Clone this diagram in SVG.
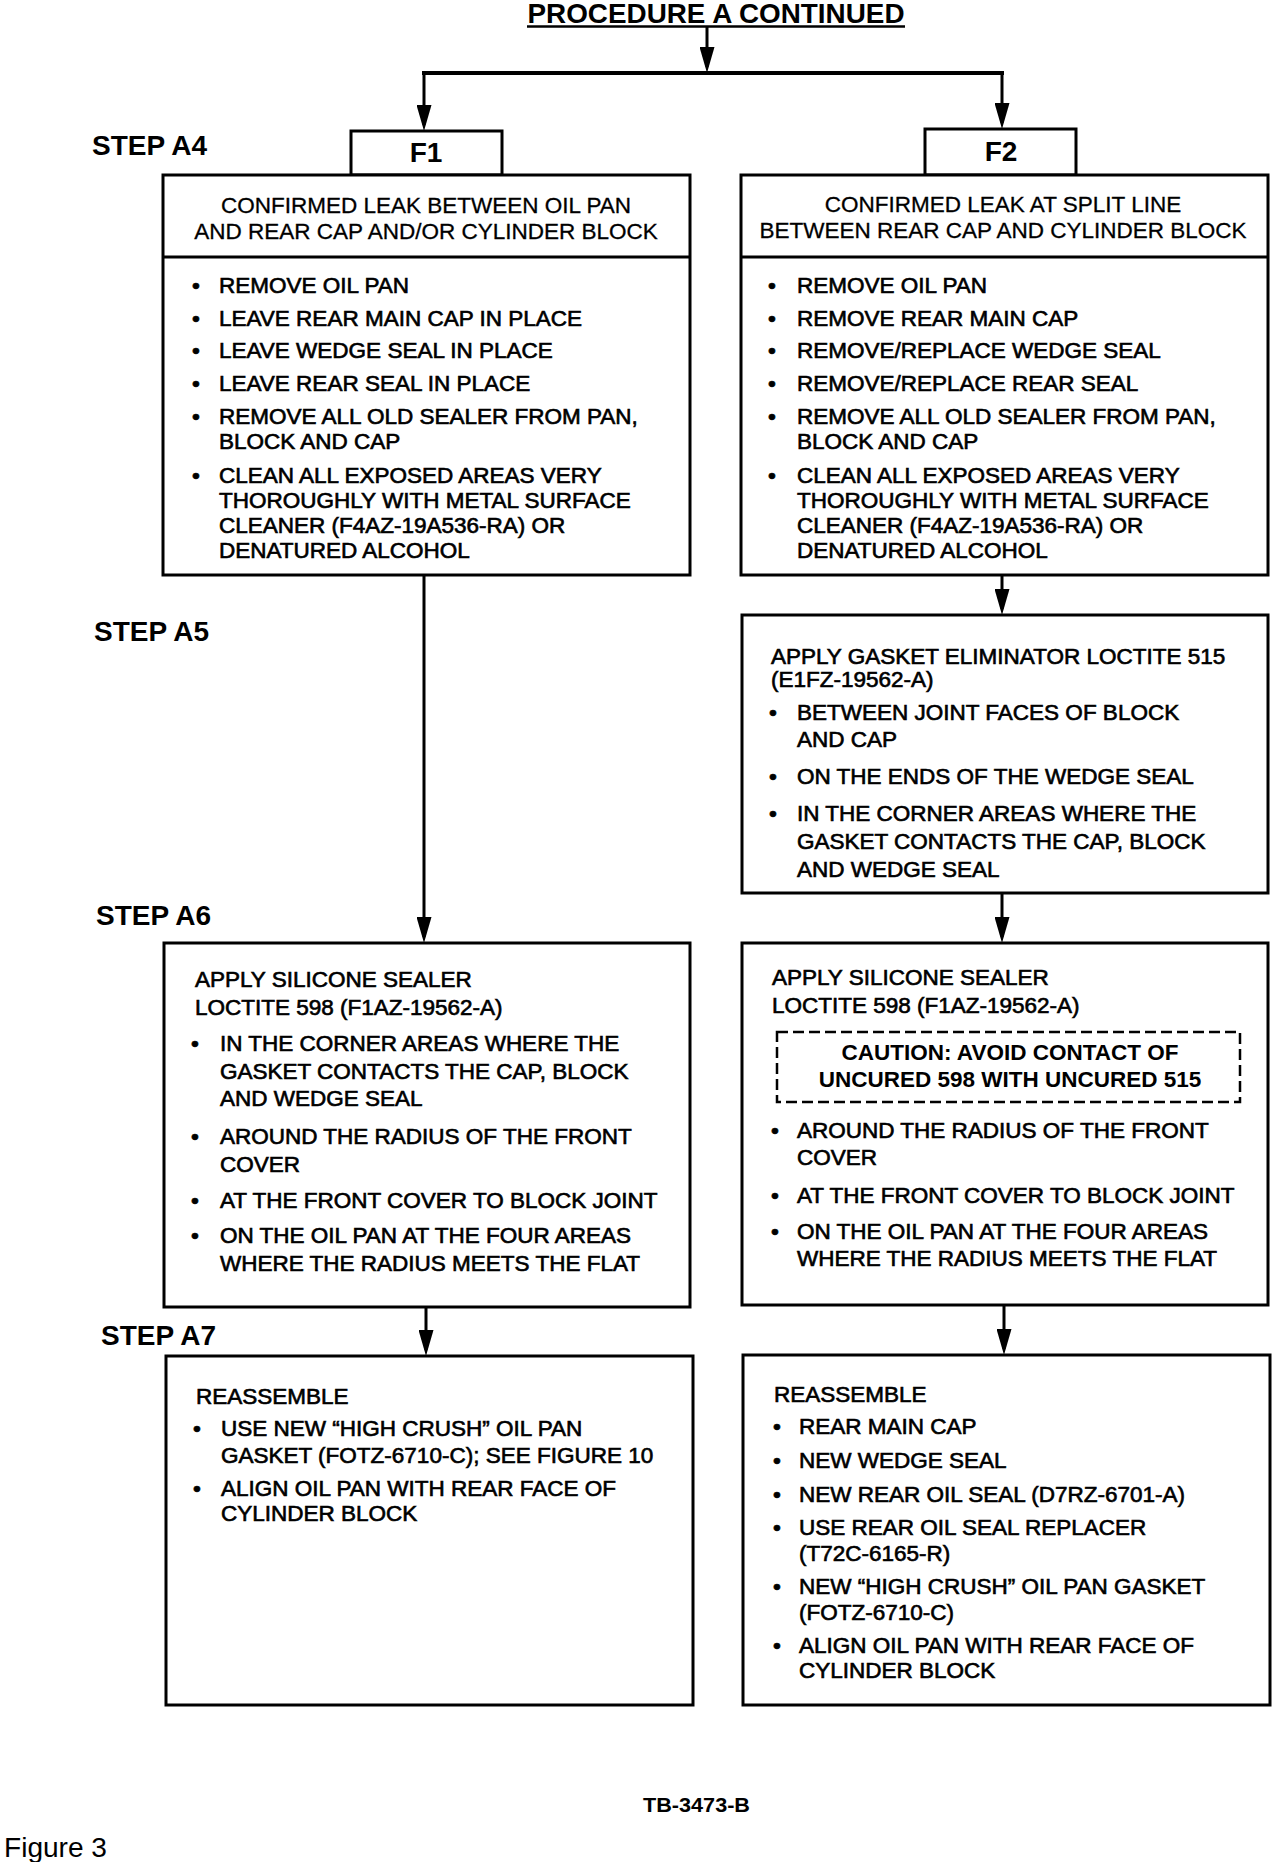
<svg xmlns="http://www.w3.org/2000/svg" width="1280" height="1862" viewBox="0 0 1280 1862">
<style>
.box{fill:#fff;stroke:#000;stroke-width:3}
.lbl{fill:#fff;stroke:#000;stroke-width:3}
.dash{fill:none;stroke:#000;stroke-width:2.5;stroke-dasharray:11 5}
.ln{fill:none;stroke:#000;stroke-width:3}
.t{font-family:"Liberation Sans",Arial,sans-serif;font-size:22.5px;fill:#000;stroke:#000;stroke-width:0.65}
.h{font-family:"Liberation Sans",Arial,sans-serif;font-size:22.5px;fill:#000;stroke:#000;stroke-width:0.3;text-anchor:middle}
.b{font-family:"Liberation Sans",Arial,sans-serif;font-size:22.5px;font-weight:bold;fill:#000;text-anchor:middle}
.step{font-family:"Liberation Sans",Arial,sans-serif;font-size:28px;font-weight:bold;fill:#000}
.f{font-family:"Liberation Sans",Arial,sans-serif;font-size:28px;font-weight:bold;fill:#000;text-anchor:middle}
</style>
<defs>
<marker id="ah" viewBox="0 0 26 15" refX="20" refY="7.5" markerWidth="26" markerHeight="15" markerUnits="userSpaceOnUse" orient="auto">
<path d="M0,0 L26,7.5 L0,15 z" fill="#000"/>
</marker>
</defs>
<rect width="1280" height="1862" fill="#fff"/>

<g id="title">
<text x="716" y="23" class="f" font-size="29" textLength="377" lengthAdjust="spacingAndGlyphs">PROCEDURE A CONTINUED</text>
<line x1="527" y1="26.5" x2="905" y2="26.5" stroke="#000" stroke-width="2.5"/>
</g>

<g id="connectors">
<line class="ln" x1="707" y1="27" x2="707" y2="67" marker-end="url(#ah)"/>
<line x1="422" y1="73" x2="1004" y2="73" stroke="#000" stroke-width="4"/>
<line class="ln" x1="424" y1="73" x2="424" y2="125" marker-end="url(#ah)"/>
<line class="ln" x1="1002" y1="73" x2="1002" y2="123" marker-end="url(#ah)"/>
<line class="ln" x1="424" y1="575" x2="424" y2="937" marker-end="url(#ah)"/>
<line class="ln" x1="1002" y1="575" x2="1002" y2="609" marker-end="url(#ah)"/>
<line class="ln" x1="1002" y1="893" x2="1002" y2="937" marker-end="url(#ah)"/>
<line class="ln" x1="426" y1="1307" x2="426" y2="1350" marker-end="url(#ah)"/>
<line class="ln" x1="1004" y1="1305" x2="1004" y2="1349" marker-end="url(#ah)"/>
</g>

<g id="steps">
<text x="92" y="155" class="step">STEP A4</text>
<text x="94" y="641" class="step">STEP A5</text>
<text x="96" y="925" class="step">STEP A6</text>
<text x="101" y="1345" class="step">STEP A7</text>
</g>

<g id="F1">
<rect class="lbl" x="351" y="131" width="151" height="44"/>
<text x="426" y="162" class="f">F1</text>
</g>
<g id="F2">
<rect class="lbl" x="925" y="129" width="151" height="46"/>
<text x="1001" y="161" class="f">F2</text>
</g>

<g id="A4-F1">
<rect class="box" x="163" y="175" width="527" height="400"/>
<line class="ln" x1="163" y1="257" x2="690" y2="257"/>
<text x="426" y="213" class="h">CONFIRMED LEAK BETWEEN OIL PAN</text>
<text x="426" y="239" class="h">AND REAR CAP AND/OR CYLINDER BLOCK</text>
<text class="t" x="192" y="293">•</text><text class="t" x="219" y="293">REMOVE OIL PAN</text>
<text class="t" x="192" y="326">•</text><text class="t" x="219" y="326">LEAVE REAR MAIN CAP IN PLACE</text>
<text class="t" x="192" y="358">•</text><text class="t" x="219" y="358">LEAVE WEDGE SEAL IN PLACE</text>
<text class="t" x="192" y="391">•</text><text class="t" x="219" y="391">LEAVE REAR SEAL IN PLACE</text>
<text class="t" x="192" y="424">•</text><text class="t" x="219" y="424">REMOVE ALL OLD SEALER FROM PAN,</text>
<text class="t" x="219" y="449">BLOCK AND CAP</text>
<text class="t" x="192" y="483">•</text><text class="t" x="219" y="483">CLEAN ALL EXPOSED AREAS VERY</text>
<text class="t" x="219" y="508">THOROUGHLY WITH METAL SURFACE</text>
<text class="t" x="219" y="533">CLEANER (F4AZ-19A536-RA) OR</text>
<text class="t" x="219" y="558">DENATURED ALCOHOL</text>
</g>

<g id="A4-F2">
<rect class="box" x="741" y="175" width="527" height="400"/>
<line class="ln" x1="741" y1="257" x2="1268" y2="257"/>
<text x="1003" y="212" class="h">CONFIRMED LEAK AT SPLIT LINE</text>
<text x="1003" y="238" class="h">BETWEEN REAR CAP AND CYLINDER BLOCK</text>
<text class="t" x="768" y="293">•</text><text class="t" x="797" y="293">REMOVE OIL PAN</text>
<text class="t" x="768" y="326">•</text><text class="t" x="797" y="326">REMOVE REAR MAIN CAP</text>
<text class="t" x="768" y="358">•</text><text class="t" x="797" y="358">REMOVE/REPLACE WEDGE SEAL</text>
<text class="t" x="768" y="391">•</text><text class="t" x="797" y="391">REMOVE/REPLACE REAR SEAL</text>
<text class="t" x="768" y="424">•</text><text class="t" x="797" y="424">REMOVE ALL OLD SEALER FROM PAN,</text>
<text class="t" x="797" y="449">BLOCK AND CAP</text>
<text class="t" x="768" y="483">•</text><text class="t" x="797" y="483">CLEAN ALL EXPOSED AREAS VERY</text>
<text class="t" x="797" y="508">THOROUGHLY WITH METAL SURFACE</text>
<text class="t" x="797" y="533">CLEANER (F4AZ-19A536-RA) OR</text>
<text class="t" x="797" y="558">DENATURED ALCOHOL</text>
</g>

<g id="A5-F2">
<rect class="box" x="742" y="615" width="526" height="278"/>
<text class="t" x="771" y="664">APPLY GASKET ELIMINATOR LOCTITE 515</text>
<text class="t" x="771" y="687">(E1FZ-19562-A)</text>
<text class="t" x="769" y="720">•</text><text class="t" x="797" y="720">BETWEEN JOINT FACES OF BLOCK</text>
<text class="t" x="797" y="747">AND CAP</text>
<text class="t" x="769" y="784">•</text><text class="t" x="797" y="784">ON THE ENDS OF THE WEDGE SEAL</text>
<text class="t" x="769" y="821">•</text><text class="t" x="797" y="821">IN THE CORNER AREAS WHERE THE</text>
<text class="t" x="797" y="849">GASKET CONTACTS THE CAP, BLOCK</text>
<text class="t" x="797" y="877">AND WEDGE SEAL</text>
</g>

<g id="A6-F1">
<rect class="box" x="164" y="943" width="526" height="364"/>
<text class="t" x="195" y="987">APPLY SILICONE SEALER</text>
<text class="t" x="195" y="1015">LOCTITE 598 (F1AZ-19562-A)</text>
<text class="t" x="191" y="1051">•</text><text class="t" x="220" y="1051">IN THE CORNER AREAS WHERE THE</text>
<text class="t" x="220" y="1079">GASKET CONTACTS THE CAP, BLOCK</text>
<text class="t" x="220" y="1106">AND WEDGE SEAL</text>
<text class="t" x="191" y="1144">•</text><text class="t" x="220" y="1144">AROUND THE RADIUS OF THE FRONT</text>
<text class="t" x="220" y="1172">COVER</text>
<text class="t" x="191" y="1208">•</text><text class="t" x="220" y="1208">AT THE FRONT COVER TO BLOCK JOINT</text>
<text class="t" x="191" y="1243">•</text><text class="t" x="220" y="1243">ON THE OIL PAN AT THE FOUR AREAS</text>
<text class="t" x="220" y="1271">WHERE THE RADIUS MEETS THE FLAT</text>
</g>

<g id="A6-F2">
<rect class="box" x="742" y="943" width="526" height="362"/>
<text class="t" x="772" y="985">APPLY SILICONE SEALER</text>
<text class="t" x="772" y="1013">LOCTITE 598 (F1AZ-19562-A)</text>
<rect class="dash" x="777" y="1032" width="463" height="70"/>
<text class="b" x="1010" y="1060">CAUTION: AVOID CONTACT OF</text>
<text class="b" x="1010" y="1087">UNCURED 598 WITH UNCURED 515</text>
<text class="t" x="771" y="1138">•</text><text class="t" x="797" y="1138">AROUND THE RADIUS OF THE FRONT</text>
<text class="t" x="797" y="1165">COVER</text>
<text class="t" x="771" y="1203">•</text><text class="t" x="797" y="1203">AT THE FRONT COVER TO BLOCK JOINT</text>
<text class="t" x="771" y="1239">•</text><text class="t" x="797" y="1239">ON THE OIL PAN AT THE FOUR AREAS</text>
<text class="t" x="797" y="1266">WHERE THE RADIUS MEETS THE FLAT</text>
</g>

<g id="A7-F1">
<rect class="box" x="166" y="1356" width="527" height="349"/>
<text class="t" x="196" y="1404">REASSEMBLE</text>
<text class="t" x="193" y="1436">•</text><text class="t" x="221" y="1436">USE NEW “HIGH CRUSH” OIL PAN</text>
<text class="t" x="221" y="1463">GASKET (FOTZ-6710-C); SEE FIGURE 10</text>
<text class="t" x="193" y="1496">•</text><text class="t" x="221" y="1496">ALIGN OIL PAN WITH REAR FACE OF</text>
<text class="t" x="221" y="1521">CYLINDER BLOCK</text>
</g>

<g id="A7-F2">
<rect class="box" x="743" y="1355" width="527" height="350"/>
<text class="t" x="774" y="1402">REASSEMBLE</text>
<text class="t" x="773" y="1434">•</text><text class="t" x="799" y="1434">REAR MAIN CAP</text>
<text class="t" x="773" y="1468">•</text><text class="t" x="799" y="1468">NEW WEDGE SEAL</text>
<text class="t" x="773" y="1502">•</text><text class="t" x="799" y="1502">NEW REAR OIL SEAL (D7RZ-6701-A)</text>
<text class="t" x="773" y="1535">•</text><text class="t" x="799" y="1535">USE REAR OIL SEAL REPLACER</text>
<text class="t" x="799" y="1561">(T72C-6165-R)</text>
<text class="t" x="773" y="1594">•</text><text class="t" x="799" y="1594">NEW “HIGH CRUSH” OIL PAN GASKET</text>
<text class="t" x="799" y="1620">(FOTZ-6710-C)</text>
<text class="t" x="773" y="1653">•</text><text class="t" x="799" y="1653">ALIGN OIL PAN WITH REAR FACE OF</text>
<text class="t" x="799" y="1678">CYLINDER BLOCK</text>
</g>

<g id="footer">
<text x="643" y="1812" font-family="Liberation Sans, Arial, sans-serif" font-size="21" font-weight="bold" textLength="107" lengthAdjust="spacingAndGlyphs">TB-3473-B</text>
<text x="4" y="1857" font-family="Liberation Sans, Arial, sans-serif" font-size="27" textLength="103" lengthAdjust="spacingAndGlyphs">Figure 3</text>
</g>
</svg>
